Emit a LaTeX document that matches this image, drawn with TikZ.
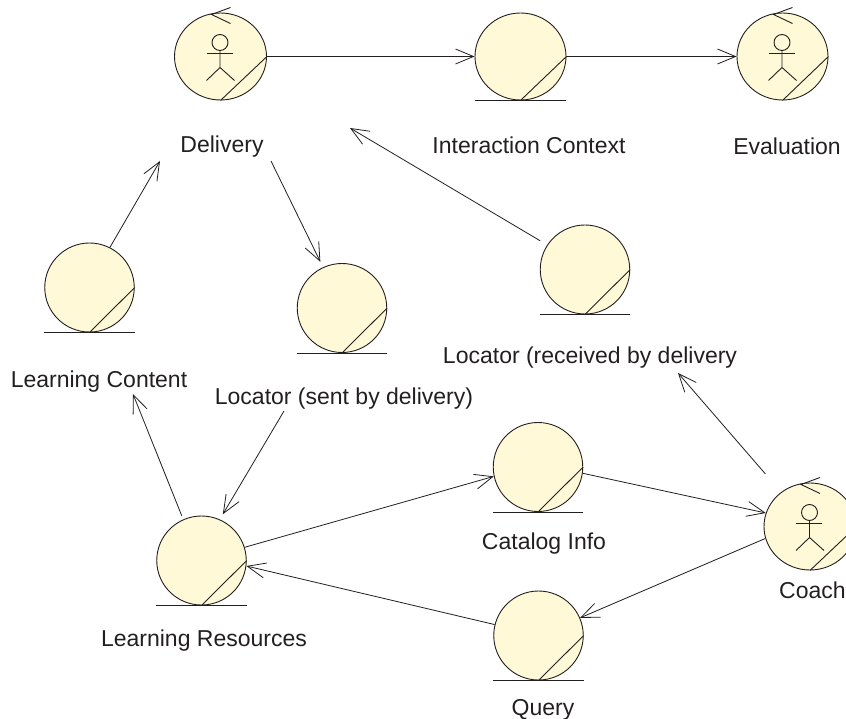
\documentclass[tikz,border=0pt]{standalone}
\usepackage{fontspec}
\setmainfont{Liberation Sans}
\usetikzlibrary{shapes.geometric,arrows.meta}
\definecolor{bub}{HTML}{FFF9D8}
\definecolor{ink}{HTML}{231F20}
\tikzset{
  bubble/.style={ellipse,draw=ink,fill=bub,line width=0.9pt,inner sep=0pt,minimum width=#1,minimum height=87pt},
  bubble/.default=91pt,
  rnd/.style={ellipse,draw=ink,fill=bub,line width=0.9pt,inner sep=0pt,minimum width=89.5pt,minimum height=89pt},
  lbl/.style={text=ink,font=\fontsize{23}{25}\selectfont,inner sep=0pt},
  flow/.style={draw=ink,line width=0.8pt,-{Straight Barb[length=18pt,width=15pt,line width=0.8pt]}},
  part/.style={draw=ink,line width=0.9pt},
}
\newcommand{\diag}[1]{\draw[part] (#1.south) -- (#1.east);}
\newcommand{\base}[1]{\draw[part] (#1.south -| #1.west) -- (#1.south -| #1.east);}
\newcommand{\actorfig}[1]{%
  \begin{scope}[shift={(#1.center)}]
    \draw[part] (-0.5,-14) circle (8pt);
    \draw[part] (-14,-3.5) -- (12,-3.5);
    \draw[part] (-0.5,-6) -- (-0.5,11) (-14,24) -- (-0.5,11) -- (14,24);
    \draw[part] (10,-49) -- (-9,-42) -- (10,-33);
  \end{scope}}
\begin{document}
\begin{tikzpicture}[x=1pt,y=-1pt]
\useasboundingbox (0,0) rectangle (846,719);
% bubbles
\node[bubble=92pt] (d) at (220.5,56.5) {};
\node[bubble] (ic) at (520.5,56.5) {};
\node[bubble] (ev) at (782.5,56.5) {};
\node[rnd] (lc) at (89.5,287.5) {};
\node[rnd] (ls) at (342,308) {};
\node[rnd] (lr) at (585,269.5) {};
\node[rnd] (cat) at (538,467) {};
\node[rnd] (q) at (538.5,635.5) {};
\node[rnd] (res) at (201.5,560.5) {};
\node[bubble=92pt] (co) at (810,526.5) {};
\foreach \n in {d,ic,ev,lc,ls,lr,cat,q,res,co} {\diag{\n}}
\foreach \n in {ic,lc,ls,lr,cat,q,res} {\base{\n}}
\actorfig{d}\actorfig{ev}\actorfig{co}
% labels
\node[lbl] (td) at (222,147) {Delivery};
\node[lbl] (tic) at (529,145) {Interaction Context};
\node[lbl] (tev) at (787,146) {Evaluation};
\node[lbl] (tlc) at (99,382) {Learning Content};
\node[lbl] (tls) at (344,399) {Locator (sent by delivery)};
\node[lbl] (tlr) at (590,358) {Locator (received by delivery};
\node[lbl] (tcat) at (544,544) {Catalog Info};
\node[lbl] (tres) at (204,641) {Learning Resources};
\node[lbl] (tq) at (543,710) {Query};
\node[lbl,anchor=west] (tco) at (779,590) {Coach};
% free ends
\coordinate (e1) at (350,128);
\coordinate (e2) at (160,161);
\coordinate (s3) at (271,161);
\coordinate (e4) at (133,394);
\coordinate (s5) at (284,411);
\coordinate (e6) at (678,373);
% connectors
\draw[flow] (d.east) -- (ic.west);
\draw[flow] (ic.east) -- (ev.west);
\draw[flow,shorten <=8pt] (lr.147.6) -- (e1);
\draw[flow] (lc.63.7) -- (e2);
\draw[flow,shorten >=6pt] (s3) -- (ls.115.6);
\draw[flow,shorten <=4pt] (res.114.7) -- (e4);
\draw[flow,shorten >=6pt] (s5) -- (res.66.2);
\draw[flow] (res.17.2) -- (cat.192.5);
\draw[flow] (cat.-8.8) -- (co.163.8);
\draw[flow] (co.195) -- (q.23.7);
\draw[flow] (q.166.7) -- (res.-7);
\draw[flow,shorten <=24pt] (co.130) -- (e6);
\end{tikzpicture}
\end{document}
